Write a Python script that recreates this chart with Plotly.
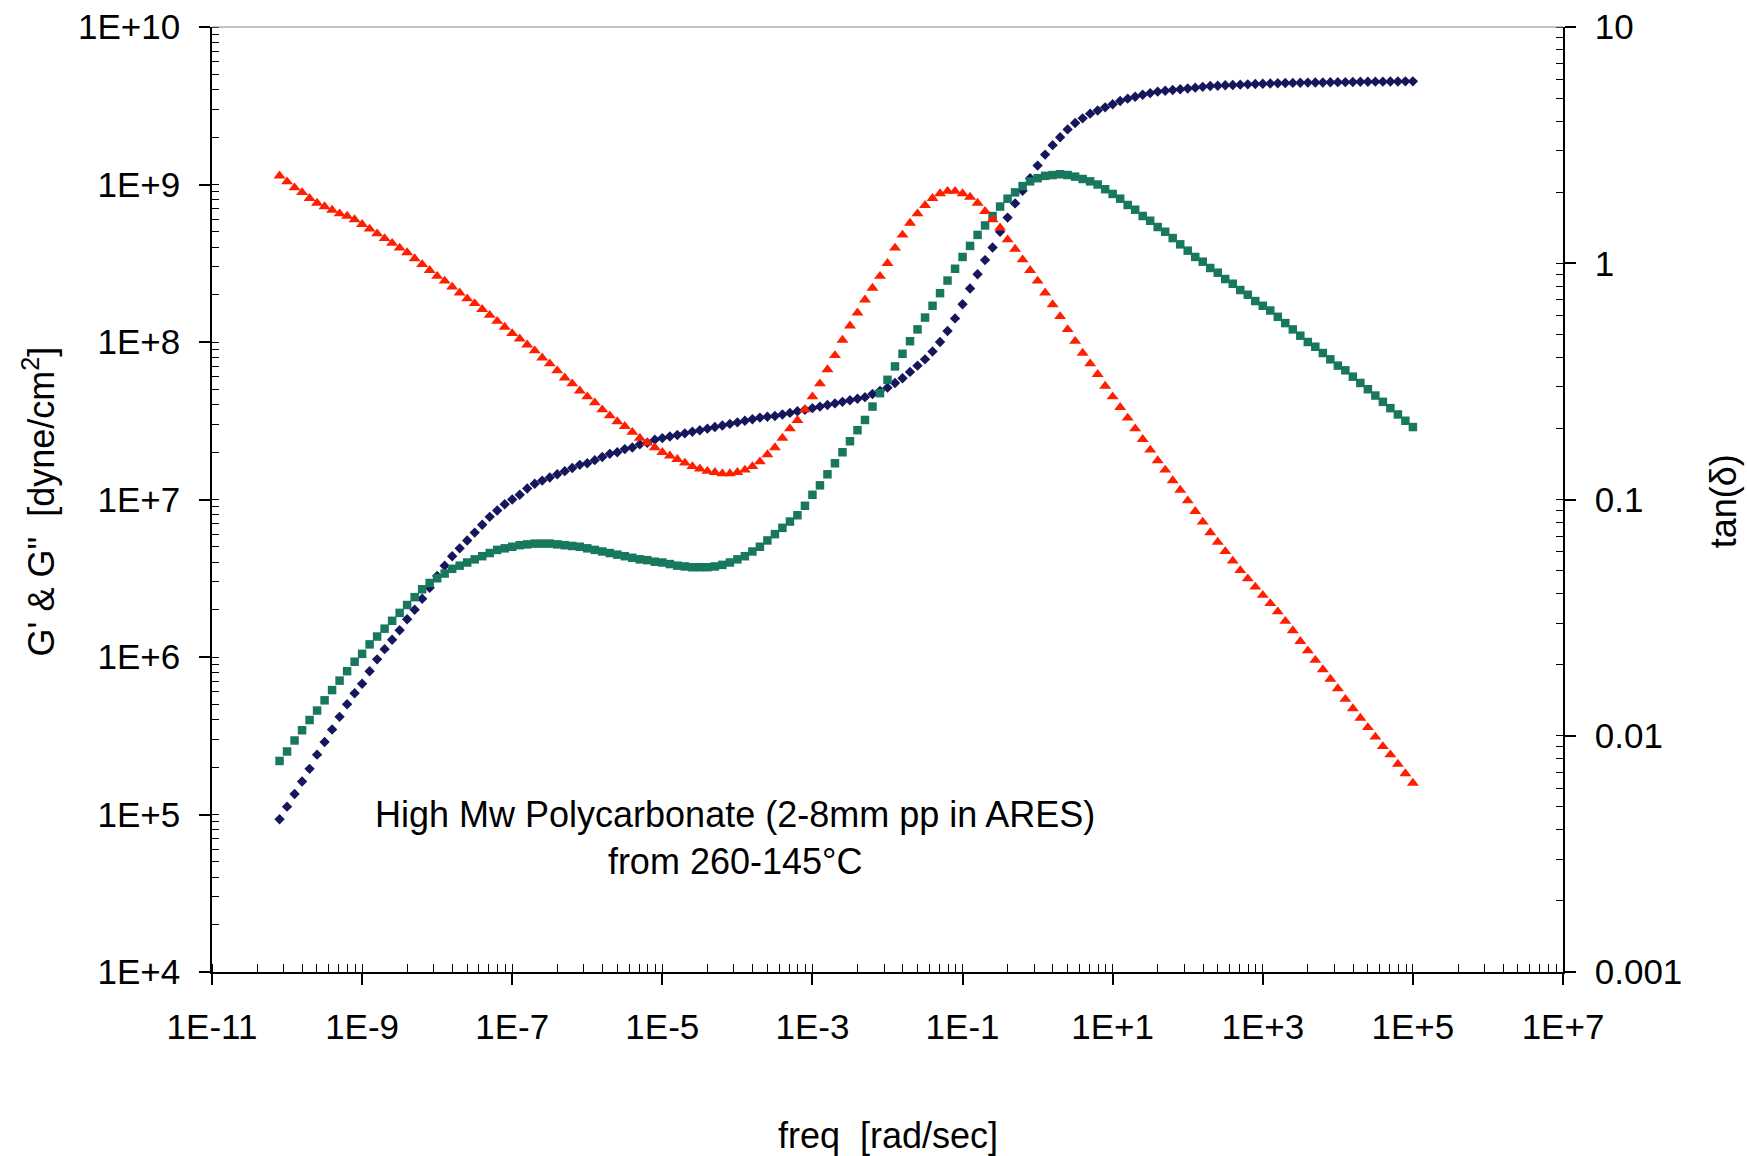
import plotly.graph_objects as go

# ---------------- data ----------------
# log10 of angular frequency [rad/sec]
log_freq = [
    -10.1, -10.0, -9.9, -9.8, -9.7, -9.6, -9.5, -9.4, -9.3, -9.2,
    -9.1, -9.0, -8.9, -8.8, -8.7, -8.6, -8.5, -8.4, -8.3, -8.2,
    -8.1, -8.0, -7.9, -7.8, -7.7, -7.6, -7.5, -7.4, -7.3, -7.2,
    -7.1, -7.0, -6.9, -6.8, -6.7, -6.6, -6.5, -6.4, -6.3, -6.2,
    -6.1, -6.0, -5.9, -5.8, -5.7, -5.6, -5.5, -5.4, -5.3, -5.2,
    -5.1, -5.0, -4.9, -4.8, -4.7, -4.6, -4.5, -4.4, -4.3, -4.2,
    -4.1, -4.0, -3.9, -3.8, -3.7, -3.6, -3.5, -3.4, -3.3, -3.2,
    -3.1, -3.0, -2.9, -2.8, -2.7, -2.6, -2.5, -2.4, -2.3, -2.2,
    -2.1, -2.0, -1.9, -1.8, -1.7, -1.6, -1.5, -1.4, -1.3, -1.2,
    -1.1, -1.0, -0.9, -0.8, -0.7, -0.6, -0.5, -0.4, -0.3, -0.2,
    -0.1, 0.0, 0.1, 0.2, 0.3, 0.4, 0.5, 0.6, 0.7, 0.8,
    0.9, 1.0, 1.1, 1.2, 1.3, 1.4, 1.5, 1.6, 1.7, 1.8,
    1.9, 2.0, 2.1, 2.2, 2.3, 2.4, 2.5, 2.6, 2.7, 2.8,
    2.9, 3.0, 3.1, 3.2, 3.3, 3.4, 3.5, 3.6, 3.7, 3.8,
    3.9, 4.0, 4.1, 4.2, 4.3, 4.4, 4.5, 4.6, 4.7, 4.8,
    4.9, 5.0,
]

# log10 of G' (storage modulus) [dyne/cm^2]
log_g_storage = [
    4.97, 5.05, 5.13, 5.21, 5.29, 5.38, 5.46, 5.54, 5.62, 5.70,
    5.77, 5.83, 5.91, 5.985, 6.05, 6.11, 6.17, 6.24, 6.30, 6.37,
    6.44, 6.515, 6.58, 6.64, 6.69, 6.74, 6.79, 6.84, 6.89, 6.93,
    6.97, 7.00, 7.03, 7.07, 7.10, 7.12, 7.14, 7.16, 7.18, 7.20,
    7.22, 7.23, 7.25, 7.27, 7.29, 7.30, 7.32, 7.33, 7.35, 7.36,
    7.38, 7.39, 7.40, 7.41, 7.42, 7.43, 7.44, 7.45, 7.46, 7.47,
    7.48, 7.49, 7.50, 7.51, 7.52, 7.525, 7.53, 7.54, 7.55, 7.56,
    7.57, 7.58, 7.59, 7.60, 7.61, 7.62, 7.63, 7.64, 7.65, 7.67,
    7.69, 7.71, 7.74, 7.77, 7.81, 7.85, 7.89, 7.94, 8.00, 8.07,
    8.15, 8.24, 8.34, 8.43, 8.52, 8.60, 8.70, 8.79, 8.88, 8.96,
    9.04, 9.12, 9.19, 9.25, 9.30, 9.35, 9.39, 9.42, 9.45, 9.47,
    9.49, 9.51, 9.53, 9.545, 9.557, 9.57, 9.58, 9.59, 9.595, 9.60,
    9.605, 9.61, 9.615, 9.62, 9.625, 9.627, 9.63, 9.632, 9.634, 9.636,
    9.638, 9.64, 9.641, 9.643, 9.644, 9.645, 9.646, 9.647, 9.648, 9.648,
    9.649, 9.65, 9.65, 9.651, 9.652, 9.652, 9.653, 9.653, 9.654, 9.654,
    9.655, 9.655,
]

# log10 of G'' (loss modulus) [dyne/cm^2]
log_g_loss = [
    5.34, 5.40, 5.47, 5.535, 5.60, 5.66, 5.725, 5.79, 5.85, 5.91,
    5.97, 6.02, 6.08, 6.13, 6.18, 6.23, 6.28, 6.33, 6.38, 6.43,
    6.47, 6.50, 6.53, 6.56, 6.58, 6.60, 6.62, 6.64, 6.66, 6.68,
    6.69, 6.70, 6.71, 6.715, 6.72, 6.72, 6.72, 6.715, 6.71, 6.705,
    6.70, 6.69, 6.68, 6.67, 6.66, 6.65, 6.64, 6.63, 6.62, 6.615,
    6.605, 6.60, 6.59, 6.58, 6.575, 6.57, 6.57, 6.57, 6.575, 6.585,
    6.60, 6.62, 6.64, 6.67, 6.70, 6.74, 6.78, 6.82, 6.86, 6.90,
    6.96, 7.03, 7.09, 7.16, 7.23, 7.30, 7.37, 7.44, 7.505, 7.59,
    7.675, 7.76, 7.845, 7.925, 8.005, 8.08, 8.155, 8.23, 8.31, 8.39,
    8.465, 8.54, 8.61, 8.68, 8.74, 8.80, 8.86, 8.91, 8.95, 8.99,
    9.02, 9.04, 9.055, 9.06, 9.065, 9.06, 9.05, 9.035, 9.02, 9.00,
    8.97, 8.94, 8.91, 8.87, 8.84, 8.80, 8.77, 8.73, 8.70, 8.66,
    8.62, 8.58, 8.54, 8.51, 8.47, 8.44, 8.40, 8.37, 8.33, 8.30,
    8.26, 8.23, 8.20, 8.16, 8.12, 8.08, 8.04, 8.00, 7.97, 7.93,
    7.89, 7.85, 7.82, 7.78, 7.74, 7.70, 7.66, 7.62, 7.58, 7.54,
    7.50, 7.46,
]

# log10 of tan(delta)
log_tan_delta = [
    0.37, 0.345, 0.32, 0.30, 0.275, 0.255, 0.24, 0.225, 0.21, 0.20,
    0.185, 0.165, 0.145, 0.125, 0.105, 0.085, 0.065, 0.045, 0.02, -0.005,
    -0.03, -0.055, -0.075, -0.10, -0.125, -0.15, -0.17, -0.195, -0.22, -0.245,
    -0.27, -0.297, -0.32, -0.345, -0.37, -0.40, -0.425, -0.455, -0.485, -0.51,
    -0.54, -0.565, -0.59, -0.62, -0.645, -0.67, -0.69, -0.715, -0.74, -0.76,
    -0.78, -0.80, -0.815, -0.83, -0.845, -0.86, -0.87, -0.88, -0.885, -0.89,
    -0.89, -0.885, -0.875, -0.86, -0.84, -0.81, -0.78, -0.74, -0.70, -0.665,
    -0.62, -0.565, -0.51, -0.45, -0.39, -0.325, -0.265, -0.21, -0.155, -0.105,
    -0.055, 0.0, 0.065, 0.12, 0.17, 0.21, 0.245, 0.275, 0.295, 0.305,
    0.305, 0.295, 0.28, 0.255, 0.22, 0.185, 0.15, 0.10, 0.06, 0.015,
    -0.03, -0.075, -0.125, -0.175, -0.225, -0.28, -0.33, -0.38, -0.425, -0.47,
    -0.52, -0.565, -0.61, -0.655, -0.70, -0.745, -0.79, -0.835, -0.875, -0.92,
    -0.96, -1.005, -1.05, -1.095, -1.14, -1.18, -1.22, -1.26, -1.30, -1.335,
    -1.37, -1.405, -1.44, -1.475, -1.515, -1.555, -1.60, -1.64, -1.68, -1.72,
    -1.76, -1.80, -1.845, -1.885, -1.925, -1.965, -2.005, -2.045, -2.08, -2.12,
    -2.16, -2.20,
]

x_tick_vals = [1e-11, 1e-9, 1e-7, 1e-5, 1e-3, 1e-1, 1e1, 1e3, 1e5, 1e7]
x_tick_text = ["1E-11", "1E-9", "1E-7", "1E-5", "1E-3", "1E-1", "1E+1", "1E+3", "1E+5", "1E+7"]
y_tick_vals = [1e4, 1e5, 1e6, 1e7, 1e8, 1e9, 1e10]
y_tick_text = ["1E+4", "1E+5", "1E+6", "1E+7", "1E+8", "1E+9", "1E+10"]
y2_tick_vals = [0.001, 0.01, 0.1, 1, 10]
y2_tick_text = ["0.001", "0.01", "0.1", "1", "10"]

annotation_text = "High Mw Polycarbonate (2-8mm pp in ARES)<br>from 260-145°C"
x_title = "freq  [rad/sec]"
y_title = "G' &amp; G\"  [dyne/cm<sup>2</sup>]"
y2_title = "tan(δ)"

# ---------------- build ----------------
freq = [10 ** v for v in log_freq]
g_storage = [10 ** v for v in log_g_storage]
g_loss = [10 ** v for v in log_g_loss]
tan_delta = [10 ** v for v in log_tan_delta]

BLUE = "#16165c"
GREEN = "#18785e"
RED = "#ff1e00"
FONT = "Liberation Sans, Arial, sans-serif"

# Excel-style minor ticks (major unit = 100 on x, 10 on y)
x_minor = []
for d in range(-11, 7, 2):
    for k in range(1, 10):
        x_minor.append(10.0 ** d * k * k)
x_minor.append(1e7)
y_minor = []
for d in range(4, 10):
    for k in range(1, 10):
        y_minor.append(10.0 ** d * k)
y_minor.append(1e10)
y2_minor = []
for d in range(-3, 1):
    for k in range(1, 10):
        y2_minor.append(10.0 ** d * k)
y2_minor.append(10)

fig = go.Figure()
fig.add_trace(go.Scatter(x=freq, y=g_storage, mode="markers", name="G'",
                         marker=dict(symbol="diamond", size=8, color=BLUE,
                                     line=dict(width=0)), yaxis="y"))
fig.add_trace(go.Scatter(x=freq, y=g_loss, mode="markers", name="G''",
                         marker=dict(symbol="square", size=8.5, color=GREEN,
                                     line=dict(width=0)), yaxis="y"))
fig.add_trace(go.Scatter(x=freq, y=tan_delta, mode="markers", name="tan(δ)",
                         marker=dict(symbol="triangle-up", size=10.5, color=RED,
                                     line=dict(width=0)), yaxis="y2"))

tickfont = dict(family=FONT, size=35, color="black")
fig.update_layout(
    width=1747, height=1156,
    margin=dict(l=212, r=184, t=27, b=184, autoexpand=False),
    paper_bgcolor="white", plot_bgcolor="white",
    showlegend=False,
    font=dict(family=FONT, color="black"),
    xaxis=dict(type="log", range=[-11, 7], showgrid=False, zeroline=False,
               showline=True, linecolor="black", linewidth=1.5,
               tickmode="array", tickvals=x_tick_vals, ticktext=x_tick_text,
               ticks="outside", ticklen=11, tickwidth=1.5, tickcolor="black",
               ticklabelstandoff=12, tickfont=tickfont,
               minor=dict(tickmode="array", tickvals=x_minor, ticks="inside",
                          ticklen=8, tickwidth=1, tickcolor="black", showgrid=False)),
    yaxis=dict(type="log", range=[4, 10], showgrid=False, zeroline=False,
               showline=True, linecolor="black", linewidth=1.5,
               tickmode="array", tickvals=y_tick_vals, ticktext=y_tick_text,
               ticks="outside", ticklen=11, tickwidth=1.5, tickcolor="black",
               ticklabelstandoff=12, tickfont=tickfont,
               minor=dict(tickmode="array", tickvals=y_minor, ticks="inside",
                          ticklen=7, tickwidth=1, tickcolor="black", showgrid=False)),
    yaxis2=dict(type="log", range=[-3, 1], overlaying="y", side="right",
                showgrid=False, zeroline=False,
                showline=True, linecolor="black", linewidth=1.5,
                tickmode="array", tickvals=y2_tick_vals, ticktext=y2_tick_text,
                ticks="outside", ticklen=11, tickwidth=1.5, tickcolor="black",
                ticklabelstandoff=12, tickfont=tickfont,
                minor=dict(tickmode="array", tickvals=y2_minor, ticks="inside",
                           ticklen=7, tickwidth=1, tickcolor="black", showgrid=False)),
    shapes=[dict(type="line", xref="paper", yref="paper", x0=0, x1=1, y0=1, y1=1,
                 line=dict(color="#8a8a8a", width=1.2))],
    annotations=[
        dict(text=annotation_text, xref="paper", yref="paper", x=0.387, y=0.1423,
             xanchor="center", yanchor="middle", showarrow=False, align="center",
             font=dict(family=FONT, size=36, color="black")),
        dict(text=x_title, xref="paper", yref="paper", x=0.5004, y=-0.1735,
             xanchor="center", yanchor="middle", showarrow=False,
             font=dict(family=FONT, size=36, color="black")),
        dict(text=y_title, xref="paper", yref="paper", x=-0.128, y=0.498,
             xanchor="center", yanchor="middle", showarrow=False, textangle=-90,
             font=dict(family=FONT, size=36, color="black")),
        dict(text=y2_title, xref="paper", yref="paper", x=1.1184, y=0.498,
             xanchor="center", yanchor="middle", showarrow=False, textangle=-90,
             font=dict(family=FONT, size=36, color="black")),
    ],
)

fig.write_html("out.html")
